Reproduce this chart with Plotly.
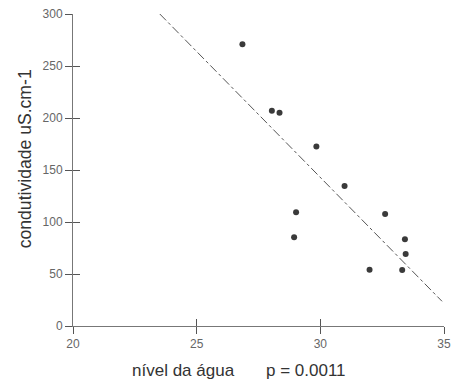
import plotly.graph_objects as go

nivel = [26.85, 28.04, 28.35, 29.84, 30.98, 29.02, 28.94, 32.62, 33.42, 33.45, 31.99, 33.31]
condut = [271, 207, 205, 172.5, 134.6, 109.3, 85.3, 107.7, 83.4, 69.2, 54.2, 53.8]
fit_x = [23.51, 34.92]
fit_y = [300, 23.75]
x_ticks = [20, 25, 30, 35]
y_ticks = [0, 50, 100, 150, 200, 250, 300]

fig = go.Figure()
fig.add_trace(go.Scatter(x=fit_x, y=fit_y, mode="lines",
                         line=dict(color="#555555", width=1, dash="dashdot"),
                         showlegend=False, cliponaxis=False))
fig.add_trace(go.Scatter(x=nivel, y=condut, mode="markers",
                         marker=dict(color="#3a3a3a", size=6, symbol="circle"),
                         showlegend=False, cliponaxis=False))

axis_common = dict(showgrid=False, zeroline=False, automargin=False)
fig.update_layout(
    width=454, height=385,
    margin=dict(l=73, r=10, t=14, b=59),
    plot_bgcolor="white", paper_bgcolor="white",
    font=dict(family="Liberation Sans, Arial, sans-serif"),
    xaxis=dict(range=[20, 35], tickvals=x_ticks, ticks="outside", ticklen=7,
               tickcolor="#555555", showline=True, linecolor="#777777", linewidth=1,
               tickfont=dict(size=12, color="#666666"), **axis_common),
    yaxis=dict(range=[0, 300], tickvals=y_ticks, ticks="outside", ticklen=7,
               tickcolor="#555555", showline=True, linecolor="#777777", linewidth=1,
               tickfont=dict(size=12, color="#666666"), ticklabelstandoff=0, **axis_common),
    xaxis2=dict(range=[20, 35], tickvals=x_ticks, ticks="inside", ticklen=7,
                tickcolor="#555555", showticklabels=False, overlaying="x",
                anchor="y", side="bottom", showline=False, **axis_common),
    yaxis2=dict(range=[0, 300], tickvals=y_ticks, ticks="inside", ticklen=7,
                tickcolor="#555555", showticklabels=False, overlaying="y",
                anchor="x", side="left", showline=False, **axis_common),
)
# dummy invisible trace to activate overlay axes
fig.add_trace(go.Scatter(x=[None], y=[None], xaxis="x2", yaxis="y2", showlegend=False))

fig.add_annotation(text="nível da água", xref="paper", yref="paper",
                   x=(183 - 73) / 371, y=(325.7 - 370) / 312, showarrow=False,
                   font=dict(size=17, color="#333333"), xanchor="center", yanchor="middle")
fig.add_annotation(text="p = 0.0011", xref="paper", yref="paper",
                   x=(306 - 73) / 371, y=(325.7 - 370) / 312, showarrow=False,
                   font=dict(size=17, color="#333333"), xanchor="center", yanchor="middle")
fig.add_annotation(text="condutividade uS.cm-1", xref="paper", yref="paper",
                   x=(25 - 73) / 371, y=(325.7 - 159) / 312, showarrow=False, textangle=-90,
                   font=dict(size=17.6, color="#333333"), xanchor="center", yanchor="middle")

fig.write_html("out.html", config={"displayModeBar": False},
               post_script="document.body.style.margin='0';document.body.style.overflow='hidden';")
